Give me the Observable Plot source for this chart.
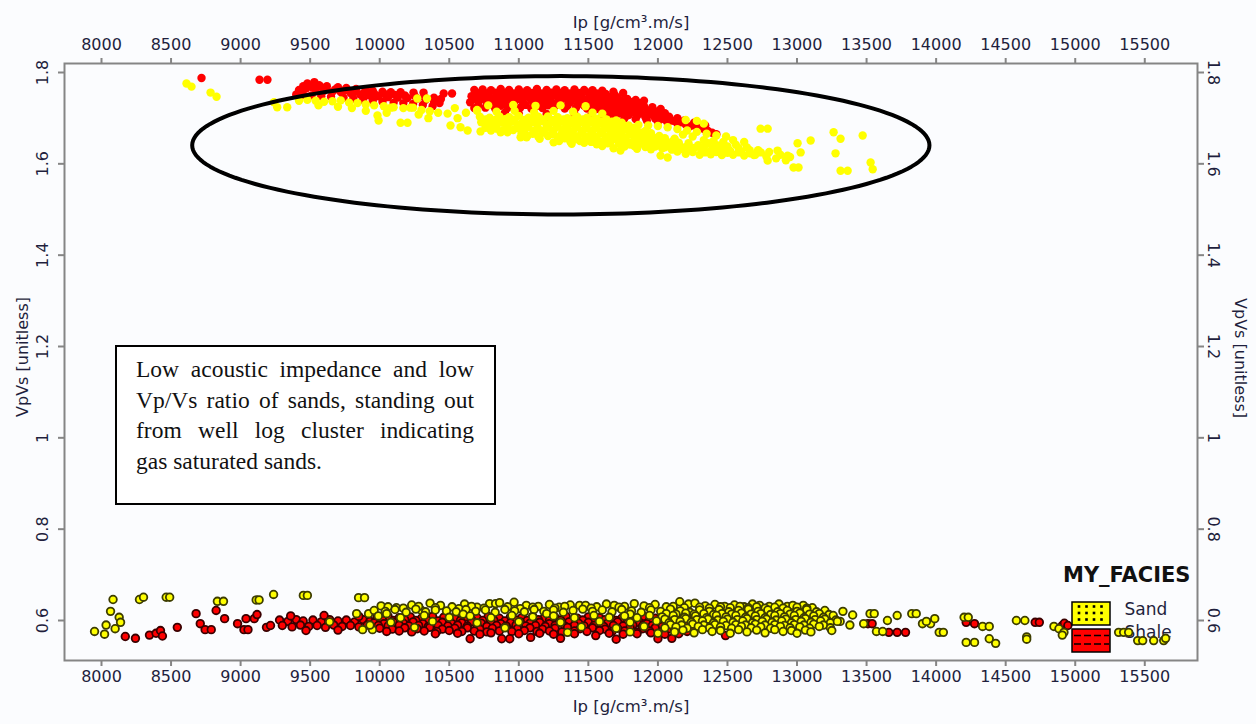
<!DOCTYPE html>
<html><head><meta charset="utf-8">
<script src="https://cdn.jsdelivr.net/npm/d3@7"></script>
<script src="https://cdn.jsdelivr.net/npm/@observablehq/plot@0.6"></script>
<style>
html,body{margin:0;padding:0;background:#fbfcfe;}
#wrap{position:relative;width:1256px;height:724px;overflow:hidden;}
#note{position:absolute;left:115px;top:345px;width:381px;height:160px;box-sizing:border-box;border:2px solid #000;background:#fff;padding:7px 20px 0 19px;font-family:"Liberation Serif","Times New Roman",serif;font-size:23.5px;line-height:30.7px;color:#111;}
#note span{display:block;text-align:justify;text-align-last:justify;white-space:nowrap;}
#note span.last{text-align-last:left;}
</style></head><body><div id="wrap"></div>
<script>
const xTicks = [8000,8500,9000,9500,10000,10500,11000,11500,12000,12500,13000,13500,14000,14500,15000,15500];
const yTicks = [0.6,0.8,1,1.2,1.4,1.6,1.8];
const xLabel = "Ip [g/cm³.m/s]";
const yLabel = "VpVs [unitless]";
const legendTitle = "MY_FACIES";
const facies = ["Sand","Shale"];
const noteLines = ["Low acoustic impedance and low","Vp/Vs ratio of sands, standing out","from well log cluster indicating","gas saturated sands."];
// highlighted region (centre Ip, centre VpVs, half-width Ip, half-height VpVs)
const ellipseCentre = [11302, 1.6406];
const ellipseRadius = [2650, 0.1515];

const shaleUpper = [
[8719,1.788],[9136,1.784],[9193,1.784],
[9480,1.776],[9530,1.779],[9565,1.772],[9620,1.770],[9700,1.768],[9760,1.766],[9830,1.764],[9900,1.762],[9950,1.760],[10020,1.758],[10080,1.757],[10150,1.757],[10243,1.756],[10315,1.756],
[9450,1.770],[9510,1.768],[9590,1.766],[9680,1.763],[9750,1.761],[9820,1.758],[9890,1.756],[9960,1.754],[10040,1.752],[10110,1.751],[10180,1.750],[10250,1.749],[10320,1.747],[10390,1.745],[10440,1.742],
[9420,1.762],[9470,1.765],[9540,1.762],[9600,1.760],[9660,1.758],[9720,1.757],[9790,1.755],[9860,1.752],[9920,1.750],[9990,1.748],[10060,1.746],[10130,1.745],[10200,1.744],[10270,1.743],[10330,1.740],[10390,1.736],[10430,1.733],
[9400,1.752],[9450,1.751],[9510,1.750],[9580,1.748],[9650,1.747],[9740,1.745],[9810,1.743],[9880,1.740],[9950,1.738],[10020,1.736],[10100,1.734],[10170,1.733],[10240,1.731],[10310,1.729],[10380,1.726],
[10460,1.754],[10520,1.754],
[10680,1.762],[10740,1.763],[10800,1.761],[10870,1.764],[10930,1.762],[11000,1.763],[11060,1.761],[11130,1.764],[11200,1.762],[11270,1.763],[11330,1.761],[11400,1.763],[11470,1.762],[11530,1.761],[11600,1.760],[11680,1.758],[11750,1.755],
[10700,1.755],[10770,1.754],[10835,1.756],[10900,1.755],[10965,1.754],[11030,1.756],[11095,1.755],[11165,1.754],[11235,1.756],[11300,1.755],[11365,1.754],[11430,1.755],[11500,1.756],[11560,1.754],[11625,1.753],[11690,1.751],
[10660,1.748],[10720,1.749],[10790,1.747],[10850,1.749],[10920,1.748],[10990,1.750],[11050,1.747],[11120,1.749],[11190,1.748],[11250,1.750],[11320,1.747],[11390,1.749],[11450,1.748],[11520,1.747],[11590,1.748],[11650,1.746],[11710,1.745],[11780,1.742],[11840,1.740],[11900,1.738],
[10690,1.741],[10750,1.742],[10820,1.740],[10885,1.742],[10950,1.741],[11015,1.740],[11085,1.742],[11150,1.741],[11220,1.740],[11285,1.742],[11350,1.741],[11420,1.740],[11480,1.741],[11545,1.740],[11610,1.741],[11675,1.739],[11740,1.738],[11810,1.735],[11870,1.733],
[10650,1.735],[10710,1.736],[10770,1.734],[10840,1.736],[10900,1.735],[10970,1.737],[11030,1.734],[11100,1.736],[11170,1.735],[11240,1.734],[11300,1.736],[11370,1.735],[11440,1.734],[11500,1.735],[11570,1.733],[11630,1.734],[11700,1.733],[11760,1.732],[11830,1.729],[11900,1.726],[11960,1.724],[12020,1.720],
[10710,1.728],[10800,1.729],[10870,1.727],[10950,1.728],[11050,1.729],[11130,1.727],[11210,1.728],[11280,1.729],[11350,1.727],[11420,1.728],[11470,1.727],[11540,1.728],[11600,1.727],[11660,1.726],[11730,1.725],[11790,1.722],[11860,1.720],[11930,1.717],[11990,1.714],[12050,1.711],
[10680,1.722],[10760,1.723],[10830,1.721],[10920,1.722],[11010,1.723],[11090,1.721],[11170,1.722],[11250,1.723],[11330,1.721],[11410,1.722],[11490,1.721],[11560,1.720],[11620,1.720],[11690,1.718],[11750,1.716],[11820,1.713],[11880,1.711],[11950,1.708],[12010,1.706],[12080,1.703],[12140,1.700],
[11650,1.713],[11720,1.710],[11790,1.707],[11850,1.705],[11910,1.702],[11980,1.699],[12050,1.697],[12110,1.694],[12170,1.691],
[10900,1.712],[11000,1.710],[11200,1.709],[11400,1.708],[11520,1.706],[11600,1.703],[11680,1.701],[11760,1.700],[11840,1.698],[11920,1.695],[12000,1.692],[12070,1.690],[12140,1.688],[12200,1.686],
[12230,1.682],[12280,1.680],[12330,1.676],[12360,1.672],[12390,1.668],[12420,1.665],[12260,1.690],[12190,1.695],[12340,1.684],[11200,1.700]
];

const sandUpper = [
[8611,1.776],[8647,1.769],[8784,1.756],[8827,1.747],
[9240,1.735],[9263,1.724],[9335,1.724],
[9420,1.738],[9480,1.740],[9540,1.738],[9600,1.736],[9660,1.737],[9720,1.739],[9780,1.734],[9840,1.733],[9900,1.730],[9960,1.728],[10030,1.726],[10100,1.724],[10170,1.722],[10240,1.723],[10300,1.718],[10360,1.715],[10420,1.712],
[9560,1.728],[9700,1.725],[9800,1.722],[9900,1.716],[9984,1.706],[9992,1.695],[10050,1.712],[10150,1.690],[10200,1.690],[10280,1.708],[10350,1.700],[10080,1.723],[10220,1.723],[10270,1.743],[10340,1.743],
[10488,1.710],[10509,1.684],[10581,1.680],[10632,1.673],[10560,1.700],[10620,1.712],[10700,1.718],[10540,1.722],
[10725,1.671],[10818,1.684],[10869,1.669],[10919,1.669],[11013,1.658],[11056,1.658],[11250,1.647],
[10780,1.728],[10960,1.729],[11120,1.727],[11300,1.728],[11480,1.726],
[10700,1.716],[10840,1.714],[10970,1.716],[11110,1.713],[11250,1.716],[11390,1.714],[11530,1.712],[11600,1.710],
[10720,1.703],[10790,1.701],[10860,1.704],[10930,1.702],[11000,1.705],[11070,1.701],[11140,1.703],[11210,1.704],[11280,1.702],[11350,1.700],[11420,1.703],[11490,1.701],[11560,1.699],[11630,1.697],[11700,1.695],
[10760,1.697],[10830,1.696],[10900,1.698],[10970,1.697],[11040,1.696],[11110,1.698],[11180,1.697],[11250,1.696],[11320,1.697],[11390,1.696],[11460,1.697],[11530,1.695],[11600,1.693],[11670,1.692],[11740,1.690],
[10730,1.691],[10800,1.693],[10880,1.690],[10950,1.692],[11020,1.689],[11090,1.691],[11160,1.693],[11230,1.690],[11300,1.692],[11370,1.689],[11440,1.691],[11510,1.690],[11580,1.688],[11650,1.687],[11720,1.686],[11790,1.684],
[10770,1.685],[10840,1.684],[10910,1.686],[10990,1.685],[11060,1.684],[11130,1.686],[11200,1.685],[11270,1.684],[11340,1.685],[11410,1.684],[11480,1.685],[11550,1.683],[11620,1.682],[11690,1.681],[11760,1.680],[11830,1.679],
[10760,1.679],[10840,1.677],[10920,1.680],[11000,1.678],[11070,1.680],[11140,1.677],[11210,1.679],[11280,1.681],[11350,1.678],[11420,1.680],[11490,1.677],[11560,1.679],[11630,1.677],[11700,1.676],[11770,1.675],[11840,1.674],[11910,1.672],
[10800,1.673],[10880,1.672],[10960,1.674],[11040,1.673],[11110,1.672],[11180,1.673],[11250,1.672],[11320,1.674],[11390,1.672],[11460,1.673],[11530,1.672],[11600,1.671],[11670,1.671],[11740,1.670],[11810,1.669],[11880,1.668],[11950,1.667],
[11020,1.667],[11100,1.666],[11170,1.668],[11240,1.665],[11310,1.667],[11380,1.666],[11450,1.668],[11520,1.665],[11590,1.667],[11660,1.666],[11730,1.664],[11800,1.665],[11870,1.663],[11940,1.662],[12010,1.661],
[11060,1.661],[11140,1.660],[11210,1.661],[11280,1.659],[11350,1.661],[11420,1.660],[11490,1.659],[11560,1.660],[11630,1.659],[11700,1.660],[11770,1.658],[11840,1.658],[11910,1.657],[11980,1.656],[12050,1.656],[12120,1.655],
[11150,1.655],[11330,1.656],[11410,1.654],[11480,1.656],[11550,1.655],[11620,1.653],[11690,1.655],[11760,1.654],[11830,1.652],[11900,1.653],[11970,1.651],[12040,1.652],[12110,1.650],
[11290,1.650],[11370,1.649],[11440,1.650],[11520,1.648],[11590,1.649],[11660,1.648],[11730,1.649],[11800,1.647],[11870,1.648],[11940,1.646],[12010,1.647],[12080,1.646],[12150,1.646],[12220,1.645],
[11380,1.644],[11470,1.646],[11560,1.643],[11640,1.645],[11720,1.644],[11800,1.642],[11870,1.644],[11940,1.641],[12010,1.643],[12080,1.641],[12150,1.642],[12220,1.640],[12290,1.641],
[11600,1.639],[11760,1.638],[11830,1.639],[11910,1.637],[11980,1.638],[12050,1.636],[12120,1.637],[12190,1.636],[12260,1.635],[12330,1.636],[12400,1.634],[12470,1.633],
[11681,1.634],[11731,1.629],[11850,1.633],[11950,1.632],[12030,1.634],[12100,1.631],[12170,1.633],[12240,1.630],[12310,1.632],[12380,1.629],[12450,1.631],[12520,1.628],
[12140,1.627],[12250,1.626],[12340,1.625],[12420,1.626],[12500,1.624],[12580,1.625],[12660,1.623],
[12019,1.618],[12070,1.614],[12200,1.622],[12300,1.620],[12380,1.621],[12460,1.619],[12540,1.620],[12620,1.618],[12690,1.619],
[12360,1.645],[12430,1.640],[12500,1.638],[12580,1.635],[12660,1.630],[12740,1.625],
[11860,1.685],[11930,1.684],[12000,1.683],[12070,1.680],[12140,1.676],[12210,1.673],[12280,1.670],[12350,1.666],[12420,1.662],[12490,1.660],[12200,1.696],[12280,1.694],[12330,1.688],[12250,1.660],[12180,1.664],[12400,1.650],[12470,1.648],[12330,1.652],
[12560,1.642],[12640,1.636],[12720,1.630],[12800,1.626],[12880,1.620],[12950,1.615],[12600,1.626],[12700,1.620],[12780,1.616],[12850,1.612],[12920,1.608],[12789,1.607],[12540,1.652],[12620,1.648],
[12738,1.677],[12789,1.677],[12860,1.629],[12932,1.618],[13004,1.645],[13026,1.625],[13098,1.651],[12975,1.592],[13011,1.592],[13263,1.669],[13313,1.655],[13277,1.623],[13313,1.585],[13364,1.585],[13472,1.662],[13529,1.603],[13544,1.588]
];

const sandLower = [
[7950,0.576],[8022,0.570],[8033,0.590],[8065,0.620],[8083,0.646],[8127,0.607],[8137,0.596],[8098,0.582],[8273,0.646],[8302,0.651],[8465,0.651],[8490,0.651],[8833,0.642],[8877,0.642],[9112,0.645],[9133,0.645],[9237,0.657],[9451,0.655],[9480,0.655],[9848,0.650],[9891,0.650],[9834,0.615],[9920,0.615],[9877,0.580],[9948,0.580],[9930,0.590],[9640,0.597],
[10010,0.632],[10120,0.628],[10230,0.634],[10301,0.622],[10362,0.638],[10437,0.633],[10520,0.630],[10610,0.636],[10700,0.629],[10790,0.637],[10833,0.637],[10862,0.639],[10966,0.640],[11054,0.633],[11140,0.631],[11220,0.635],[11290,0.629],[11370,0.634],[11437,0.633],[11480,0.633],[11560,0.630],[11630,0.636],[11686,0.633],[11760,0.631],[11830,0.637],[11900,0.632],[11980,0.635],[12060,0.630],[12157,0.641],[12220,0.636],[12266,0.638],[12340,0.632],[12410,0.635],[12480,0.631],[12550,0.634],[12620,0.630],[12680,0.636],[12731,0.633],[12800,0.631],[12870,0.636],[12930,0.631],[12970,0.633],[13045,0.633],[13110,0.628],
[10060,0.630],[10170,0.627],[10280,0.631],[10400,0.628],[10570,0.626],[10660,0.631],[10750,0.627],[10920,0.630],[11010,0.626],[11100,0.629],[11260,0.627],[11330,0.631],[11520,0.627],[11720,0.629],[11940,0.628],[12110,0.631],[12190,0.628],[12300,0.629],[12370,0.627],[12450,0.630],[12520,0.628],[12590,0.631],[12650,0.628],[12710,0.630],[12770,0.627],[12840,0.629],[12900,0.627],[13000,0.629],[13070,0.627],
[9960,0.622],[10040,0.620],[10110,0.624],[10190,0.618],[10260,0.625],[10330,0.619],[10400,0.623],[10480,0.621],[10550,0.619],[10620,0.624],[10690,0.620],[10760,0.623],[10830,0.618],[10900,0.624],[10970,0.621],[11040,0.619],[11110,0.624],[11180,0.620],[11250,0.623],[11320,0.618],[11390,0.622],[11460,0.625],[11530,0.620],[11600,0.623],[11670,0.619],[11740,0.624],[11810,0.621],[11880,0.618],[11950,0.623],[12020,0.620],[12090,0.625],[12160,0.621],[12230,0.618],[12300,0.623],[12370,0.620],[12440,0.624],[12510,0.619],[12580,0.622],[12650,0.625],[12720,0.620],[12790,0.623],[12860,0.619],[12930,0.622],[13000,0.620],[13070,0.624],[13140,0.619],[13200,0.622],
[10050,0.615],[10600,0.614],[11200,0.615],[11800,0.614],[12060,0.615],[12130,0.614],[12200,0.616],[12260,0.614],[12330,0.615],[12400,0.613],[12460,0.615],[12530,0.614],[12600,0.616],[12670,0.614],[12740,0.615],[12810,0.613],[12880,0.615],[12950,0.614],[13020,0.616],[13090,0.614],[13160,0.615],[13230,0.613],
[9990,0.610],[10150,0.606],[10320,0.611],[10500,0.607],[10650,0.610],[10800,0.606],[10950,0.611],[11100,0.608],[11250,0.610],[11400,0.606],[11540,0.611],[11650,0.607],[11760,0.610],[11850,0.606],[11940,0.611],[12030,0.608],[12110,0.611],[12190,0.607],[12270,0.610],[12350,0.606],[12420,0.611],[12490,0.608],[12560,0.611],[12630,0.607],[12700,0.610],[12770,0.606],[12840,0.611],[12910,0.608],[12980,0.611],[13050,0.606],[13120,0.610],[13190,0.607],[13260,0.611],
[12050,0.603],[12120,0.602],[12200,0.604],[12280,0.602],[12360,0.603],[12430,0.601],[12500,0.603],[12570,0.602],[12640,0.604],[12710,0.602],[12780,0.603],[12850,0.601],[12920,0.603],[12990,0.602],[13060,0.604],[13130,0.602],[13200,0.603],[13280,0.601],
[10080,0.596],[10380,0.598],[10700,0.595],[11000,0.597],[11300,0.596],[11580,0.598],[11800,0.596],[11990,0.599],[12080,0.595],[12160,0.598],[12240,0.596],[12320,0.599],[12400,0.595],[12470,0.598],[12540,0.596],[12610,0.599],[12680,0.595],[12750,0.598],[12820,0.596],[12890,0.599],[12960,0.595],[13030,0.598],[13100,0.596],[13170,0.599],[13240,0.595],[13310,0.598],
[12090,0.591],[12170,0.590],[12250,0.592],[12330,0.590],[12410,0.591],[12490,0.589],[12560,0.591],[12630,0.590],[12700,0.592],[12770,0.590],[12840,0.591],[12910,0.589],[12980,0.591],[13050,0.590],[13120,0.592],[13190,0.590],
[10250,0.585],[10900,0.584],[11450,0.586],[11700,0.583],[11900,0.587],[12050,0.584],[12130,0.586],[12210,0.583],[12290,0.587],[12370,0.584],[12450,0.586],[12530,0.583],[12600,0.587],[12670,0.584],[12740,0.586],[12810,0.583],[12880,0.587],[12950,0.584],[13020,0.586],[13090,0.583],[13160,0.587],[13240,0.584],
[12180,0.579],[12320,0.580],[12450,0.578],[12580,0.580],[12710,0.579],[12840,0.580],[12960,0.578],[13060,0.579],
[11350,0.574],[11800,0.575],[12000,0.572],[12120,0.575],[12260,0.573],[12390,0.576],[12520,0.572],[12640,0.575],[12770,0.573],[12900,0.576],[13000,0.572],[13100,0.575],
[13330,0.620],[13400,0.612],[13290,0.598],[13380,0.590],[13250,0.578],[13525,0.615],[13555,0.615],[13479,0.593],[13571,0.576],[13616,0.576],[13720,0.611],[13650,0.600],[13825,0.615],[13857,0.615],[13902,0.593],[13960,0.593],[13990,0.604],[14022,0.574],[14052,0.574],[13930,0.598],[14201,0.607],[14231,0.607],[14334,0.587],[14382,0.587],[14216,0.552],[14276,0.552],[14382,0.560],[14428,0.550],[14577,0.600],[14638,0.600],[14651,0.564],[14651,0.559],[14847,0.587],[14883,0.582],[14919,0.574],[14907,0.568],[15312,0.574],[15348,0.574],[15384,0.574],[15449,0.556],[15485,0.556],[15564,0.556],[15636,0.556],[15650,0.561]
];

const shaleLower = [
[8171,0.565],[8244,0.561],[8345,0.568],[8392,0.572],[8424,0.578],[8438,0.566],[8545,0.585],[8680,0.615],[8710,0.593],[8745,0.580],[8789,0.580],[8824,0.622],[8885,0.604],[8978,0.593],[9024,0.580],[9053,0.580],[9039,0.604],[9098,0.604],[9118,0.613],[9186,0.585],[9215,0.589],
[9280,0.601],[9340,0.598],[9400,0.602],[9450,0.599],[9520,0.601],[9580,0.597],[9640,0.602],[9700,0.599],[9760,0.601],[9820,0.597],[9880,0.602],[9930,0.598],
[9300,0.589],[9370,0.586],[9430,0.590],[9490,0.587],[9550,0.589],[9610,0.585],[9670,0.590],[9730,0.587],[9790,0.589],[9850,0.586],[9910,0.590],
[9360,0.610],[9600,0.611],[9850,0.609],[9470,0.578],[9700,0.579],
[9980,0.607],[10060,0.609],[10140,0.606],[10220,0.608],[10300,0.605],[10380,0.609],[10460,0.607],[10540,0.605],[10620,0.608],[10700,0.606],[10780,0.609],[10860,0.605],[10940,0.608],[11020,0.606],[11100,0.609],[11180,0.605],[11260,0.607],[11340,0.609],[11420,0.605],[11500,0.608],[11580,0.606],[11660,0.609],[11740,0.605],[11820,0.607],[11900,0.609],[11980,0.605],[12060,0.608],[12140,0.606],[12220,0.608],
[10020,0.601],[10100,0.600],[10180,0.602],[10260,0.600],[10340,0.601],[10420,0.599],[10500,0.601],[10580,0.600],[10660,0.602],[10740,0.600],[10820,0.601],[10900,0.599],[10980,0.601],[11060,0.600],[11140,0.602],[11220,0.600],[11300,0.601],[11380,0.599],[11460,0.601],[11540,0.600],[11620,0.602],[11700,0.600],[11780,0.601],[11860,0.599],[11940,0.601],[12020,0.600],[12100,0.602],[12180,0.600],[12260,0.601],
[9960,0.595],[10030,0.593],[10100,0.596],[10170,0.594],[10240,0.597],[10310,0.593],[10380,0.595],[10450,0.596],[10520,0.593],[10590,0.595],[10660,0.597],[10730,0.594],[10800,0.596],[10870,0.593],[10940,0.595],[11010,0.597],[11080,0.594],[11150,0.596],[11220,0.593],[11290,0.595],[11360,0.597],[11430,0.594],[11500,0.596],[11570,0.593],[11640,0.595],[11710,0.597],[11780,0.594],[11850,0.596],[11920,0.593],[11990,0.595],[12060,0.597],[12130,0.594],[12200,0.596],[12270,0.593],
[9990,0.589],[10060,0.588],[10140,0.590],[10210,0.588],[10280,0.589],[10350,0.587],[10420,0.589],[10490,0.588],[10560,0.590],[10630,0.588],[10700,0.589],[10770,0.587],[10840,0.589],[10910,0.588],[10980,0.590],[11050,0.588],[11120,0.589],[11190,0.587],[11260,0.589],[11330,0.588],[11400,0.590],[11470,0.588],[11540,0.589],[11610,0.587],[11680,0.589],[11750,0.588],[11820,0.590],[11890,0.588],[11960,0.589],[12030,0.587],[12100,0.589],[12170,0.588],[12240,0.590],
[10000,0.583],[10090,0.581],[10180,0.584],[10270,0.582],[10360,0.585],[10450,0.581],[10540,0.583],[10630,0.584],[10720,0.581],[10810,0.583],[10900,0.585],[10990,0.582],[11080,0.584],[11170,0.581],[11260,0.583],[11350,0.585],[11440,0.582],[11530,0.584],[11620,0.581],[11710,0.583],[11800,0.585],[11890,0.582],[11980,0.584],[12070,0.581],[12160,0.583],[12250,0.584],
[10050,0.576],[10140,0.577],[10230,0.575],[10320,0.577],[10410,0.576],[10500,0.578],[10590,0.576],[10680,0.577],[10770,0.575],[10860,0.577],[10950,0.576],[11040,0.578],[11130,0.576],[11220,0.577],[11310,0.575],[11400,0.577],[11490,0.576],[11580,0.578],[11670,0.576],[11760,0.577],[11850,0.575],[11940,0.577],[12030,0.576],[12120,0.578],[12210,0.576],
[10400,0.571],[10560,0.572],[10720,0.570],[10800,0.573],[10877,0.560],[10935,0.560],[11000,0.571],[11085,0.563],[11150,0.572],[11250,0.570],[11400,0.571],[11553,0.567],[11650,0.572],[11750,0.570],[11850,0.571],[11950,0.573],[12050,0.570],[12150,0.571],
[10650,0.560],[11300,0.561],[11700,0.559],[12000,0.560],[12100,0.561],
[12486,0.567],[12716,0.607],[13030,0.593],[12400,0.600],[12600,0.588],[12850,0.617],[13510,0.593],[13540,0.593],[13660,0.574],[13720,0.574],[13780,0.574],[14216,0.596],[14276,0.593],[14712,0.596],[14742,0.596],[14907,0.589],[14922,0.594],[14947,0.589]
];

const ellipsePts = d3.range(0, 360, 2).map(a => [
  ellipseCentre[0] + ellipseRadius[0] * Math.cos(a * Math.PI / 180),
  ellipseCentre[1] + ellipseRadius[1] * Math.sin(a * Math.PI / 180)
]);

const font = "DejaVu Sans, Verdana, sans-serif";
const ink = "#1f1f3d";
const grey = "#858585";
const px = d => d[0], py = d => d[1];

const plot = Plot.plot({
  width: 1256, height: 724,
  marginTop: 63, marginBottom: 64, marginLeft: 64, marginRight: 59,
  style: {background: "transparent", fontFamily: font, fontSize: "16px", color: ink},
  x: {domain: [7734, 15879], axis: null},
  y: {domain: [0.5124, 1.8197], axis: null},
  marks: [
    Plot.dot(shaleUpper, {x: px, y: py, r: 4.2, fill: "#ff0000"}),
    Plot.dot(sandUpper, {x: px, y: py, r: 4.2, fill: "#ffff00"}),
    Plot.line(ellipsePts, {x: px, y: py, stroke: "#000", strokeWidth: 4, curve: "linear-closed"}),
    Plot.text([legendTitle], {text: d => d, frameAnchor: "bottom-right", dx: -7, dy: -79, textAnchor: "end", fontWeight: "bold", fontSize: 21, fill: "#111"}),
    Plot.text([facies[0]], {text: d => d, frameAnchor: "bottom-right", dx: -73, dy: -46, textAnchor: "start", fontSize: 17, fill: ink}),
    Plot.text([facies[1]], {text: d => d, frameAnchor: "bottom-right", dx: -73, dy: -23, textAnchor: "start", fontSize: 17, fill: ink}),
    Plot.dot(shaleLower, {x: px, y: py, r: 3.8, fill: "#ff0000", stroke: "#3a0000", strokeWidth: 1.8}),
    Plot.dot(sandLower, {x: px, y: py, r: 3.8, fill: "#ffff00", stroke: "#3d3d00", strokeWidth: 1.8}),
    Plot.frame({stroke: grey, strokeWidth: 2}),
    Plot.axisX(xTicks, {anchor: "top", tickSize: 6, tickPadding: 8, stroke: grey, strokeWidth: 2, color: ink, tickFormat: d => String(d), label: null, fontSize: 16}),
    Plot.axisX(xTicks, {anchor: "bottom", tickSize: 6, tickPadding: 4, stroke: grey, strokeWidth: 2, color: ink, tickFormat: d => String(d), label: null, fontSize: 16}),
    Plot.axisY(yTicks, {anchor: "left", tickSize: 6, stroke: grey, strokeWidth: 2, tickFormat: () => "", label: null}),
    Plot.axisY(yTicks, {anchor: "right", tickSize: 6, stroke: grey, strokeWidth: 2, tickFormat: () => "", label: null}),
    Plot.text(yTicks, {y: d => d, text: d => String(d), frameAnchor: "left", textAnchor: "middle", dx: -22, rotate: -90, fill: ink, fontSize: 16}),
    Plot.text(yTicks, {y: d => d, text: d => String(d), frameAnchor: "right", textAnchor: "middle", dx: 16, rotate: 90, fill: ink, fontSize: 16}),
    Plot.text([yLabel], {text: d => d, frameAnchor: "left", textAnchor: "middle", dx: -42, dy: -5, rotate: -90, fill: ink, fontSize: 16}),
    Plot.text([yLabel], {text: d => d, frameAnchor: "right", textAnchor: "middle", dx: 43, dy: -4, rotate: 90, fill: ink, fontSize: 16}),
    Plot.text([xLabel], {text: d => d, frameAnchor: "top", dy: -47, fill: ink, fontSize: 16.5}),
    Plot.text([xLabel], {text: d => d, frameAnchor: "bottom", dy: 51, fill: ink, fontSize: 16.5})
  ]
});

const svg = d3.select(plot);
// legend swatches
const lg = svg.append("g");
const sw = [{fill: "#ffff00", y: 602}, {fill: "#ff0000", y: 629}];
lg.selectAll("rect").data(sw).join("rect")
  .attr("x", 1072).attr("y", d => d.y).attr("width", 38).attr("height", 23)
  .attr("fill", d => d.fill).attr("stroke", "#000").attr("stroke-width", 1.5);
for (const cx of [1079, 1086.5, 1094, 1101.5]) for (const cy of [606.5, 613, 619.5])
  lg.append("rect").attr("x", cx - 1.3).attr("y", cy - 1.3).attr("width", 2.6).attr("height", 2.6).attr("fill", "#000");
for (const ly of [635.5, 644])
  lg.append("line").attr("x1", 1074).attr("x2", 1109).attr("y1", ly).attr("y2", ly)
    .attr("stroke", "#000").attr("stroke-width", 1.5).attr("stroke-dasharray", "7,3");

const wrap = document.getElementById("wrap");
wrap.appendChild(plot);
const note = document.createElement("div");
note.id = "note";
note.innerHTML = noteLines.map((l, i) => `<span class="${i === noteLines.length - 1 ? "last" : ""}">${l}</span>`).join("");
wrap.appendChild(note);
</script></body></html>
